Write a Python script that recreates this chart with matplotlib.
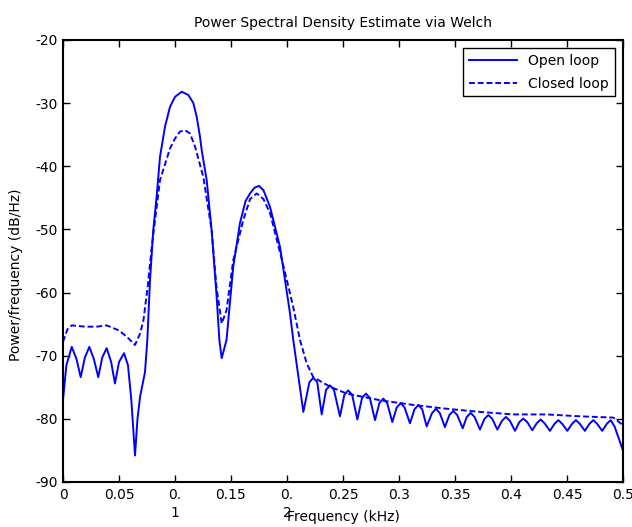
"""Welch PSD estimate, open vs closed loop."""

import matplotlib

matplotlib.use("Agg")

import matplotlib.pyplot as plt

# open loop, frequency (kHz) and PSD (dB/Hz)
open_f = [
    0.0, 0.003, 0.0078, 0.012, 0.0158, 0.0195, 0.0235, 0.0275, 0.0315, 0.035,
    0.039, 0.043, 0.0464, 0.050, 0.0545, 0.058, 0.061, 0.0643, 0.0665, 0.0688,
    0.0732, 0.0753, 0.0777, 0.0806, 0.0836, 0.0866, 0.0881, 0.0911, 0.0955, 0.100,
    0.106, 0.1119, 0.1164, 0.1194, 0.1223, 0.1238, 0.1283, 0.1327, 0.1372, 0.1396,
    0.1417, 0.146, 0.1476, 0.152, 0.158, 0.163, 0.167, 0.171, 0.175, 0.179,
    0.1848, 0.1938, 0.2027, 0.2056, 0.2146,
    0.2200, 0.2235, 0.2270, 0.231,
    0.2349, 0.2384, 0.2419, 0.2473,
    0.2512, 0.2547, 0.2582, 0.2628,
    0.2670, 0.2705, 0.2740, 0.2786,
    0.2825, 0.2860, 0.2895, 0.294,
    0.2980, 0.3015, 0.3050, 0.3098,
    0.3138, 0.3173, 0.3208, 0.3247,
    0.3295, 0.3330, 0.3365, 0.341,
    0.3450, 0.3485, 0.3520, 0.3569,
    0.3605, 0.3640, 0.3675, 0.3723,
    0.3763, 0.3798, 0.3833, 0.3878,
    0.3920, 0.3955, 0.3990, 0.4036,
    0.4075, 0.4110, 0.4145, 0.419,
    0.4230, 0.4265, 0.4300, 0.4348,
    0.4388, 0.4423, 0.4458, 0.4503,
    0.4545, 0.4580, 0.4615, 0.466,
    0.4700, 0.4735, 0.4770, 0.4815,
    0.4855, 0.4890, 0.4925, 0.5,
]
open_db = [
    -77.0, -71.5, -68.6, -70.5, -73.4, -70.3, -68.6, -70.5, -73.4, -70.3,
    -68.8, -71.0, -74.4, -71.0, -69.6, -71.5, -77.0, -85.8, -80.0, -76.5,
    -72.6, -67.5, -58.0, -50.1, -44.8, -38.5, -36.9, -33.7, -30.6, -29.0,
    -28.2, -28.7, -30.0, -32.2, -35.3, -37.4, -42.2, -50.1, -60.7, -67.5,
    -70.4, -67.5, -64.4, -55.9, -49.0, -45.5, -44.3, -43.4, -43.1, -43.8,
    -46.4, -52.8, -63.3, -67.5, -78.9,
    -74.2, -73.5, -74.2, -79.3,
    -75.4, -74.7, -75.4, -79.6,
    -76.2, -75.5, -76.2, -80.1,
    -76.7, -76.0, -76.7, -80.2,
    -77.5, -76.8, -77.5, -80.5,
    -78.2, -77.5, -78.2, -80.7,
    -78.5, -77.8, -78.5, -81.2,
    -79.1, -78.4, -79.1, -81.3,
    -79.4, -78.75, -79.4, -81.5,
    -79.7, -79.06, -79.7, -81.7,
    -80.0, -79.4, -80.0, -81.7,
    -80.3, -79.7, -80.3, -81.9,
    -80.5, -79.96, -80.5, -81.8,
    -80.7, -80.1, -80.7, -81.9,
    -80.8, -80.2, -80.8, -81.9,
    -80.8, -80.2, -80.8, -81.9,
    -80.8, -80.2, -80.8, -81.9,
    -80.8, -80.2, -81.2, -85.0,
]

# closed loop
closed_f = [
    0.0, 0.004, 0.0078, 0.02, 0.03, 0.039, 0.05, 0.057, 0.0643, 0.0688,
    0.0718, 0.0756, 0.0792, 0.0866, 0.0955, 0.100, 0.1045, 0.109, 0.1134, 0.1179,
    0.1253, 0.1327, 0.137, 0.1417, 0.146, 0.152, 0.161, 0.167, 0.173, 0.179,
    0.185, 0.197, 0.2056, 0.2116, 0.2176, 0.2235, 0.2384, 0.2533, 0.283, 0.3128,
    0.3426, 0.3723, 0.402, 0.432, 0.4616, 0.4914, 0.5,
]
closed_db = [
    -67.8, -65.8, -65.2, -65.4, -65.4, -65.2, -66.0, -67.0, -68.3, -66.5,
    -64.4, -59.1, -52.8, -42.2, -37.2, -35.6, -34.5, -34.3, -34.8, -36.9,
    -41.7, -50.1, -59.1, -64.9, -62.8, -54.9, -48.5, -45.2, -44.3, -45.2,
    -47.5, -55.9, -62.3, -67.5, -71.2, -73.4, -74.9, -76.0, -77.05, -77.8,
    -78.4, -78.9, -79.3, -79.3, -79.6, -79.8, -81.0,
]

x_ticks = [0, 0.05, 0.1, 0.15, 0.2, 0.25, 0.3, 0.35, 0.4, 0.45, 0.5]
x_tick_labels = ["0", "0.05", "0.\n1", "0.15", "0.\n2", "0.25", "0.3", "0.35", "0.4", "0.45", "0.5"]
y_ticks = [-90, -80, -70, -60, -50, -40, -30, -20]


def main() -> None:
    plt.rcParams["font.family"] = ["DejaVu Sans"]
    plt.rcParams["axes.unicode_minus"] = False
    fig = plt.figure(figsize=(6.32, 5.27), dpi=100)
    ax = fig.add_axes([0.0997, 0.0854, 0.886, 0.8387])

    ax.plot(open_f, open_db, color="blue", lw=1.4, label="Open loop")
    ax.plot(closed_f, closed_db, color="blue", lw=1.4, linestyle=(0, (3, 1.5)), label="Closed loop")

    ax.set_xlim(0, 0.5)
    ax.set_ylim(-90, -20)
    ax.set_xticks(x_ticks)
    ax.set_xticklabels(x_tick_labels, linespacing=1.45)
    ax.set_yticks(y_ticks)
    ax.tick_params(direction="in", length=5, width=1, top=True, right=True, labelsize=10, pad=4)
    for spine in ax.spines.values():
        spine.set_linewidth(1.5)

    ax.set_title("Power Spectral Density Estimate via Welch", fontsize=10, pad=9)
    ax.set_xlabel("Frequency (kHz)", fontsize=10)
    ax.xaxis.set_label_coords(0.5, -0.063)
    ax.set_ylabel("Power/frequency (dB/Hz)", fontsize=10)
    ax.yaxis.set_label_coords(-0.071, 0.47)

    leg = ax.legend(loc="upper right", fontsize=10, fancybox=False, framealpha=1,
                    edgecolor="black", borderaxespad=0.6, handlelength=3.5, labelspacing=0.65)
    leg.get_frame().set_linewidth(1.0)

    fig.savefig("out.png", dpi=100)
    plt.close(fig)


if __name__ == "__main__":
    main()
